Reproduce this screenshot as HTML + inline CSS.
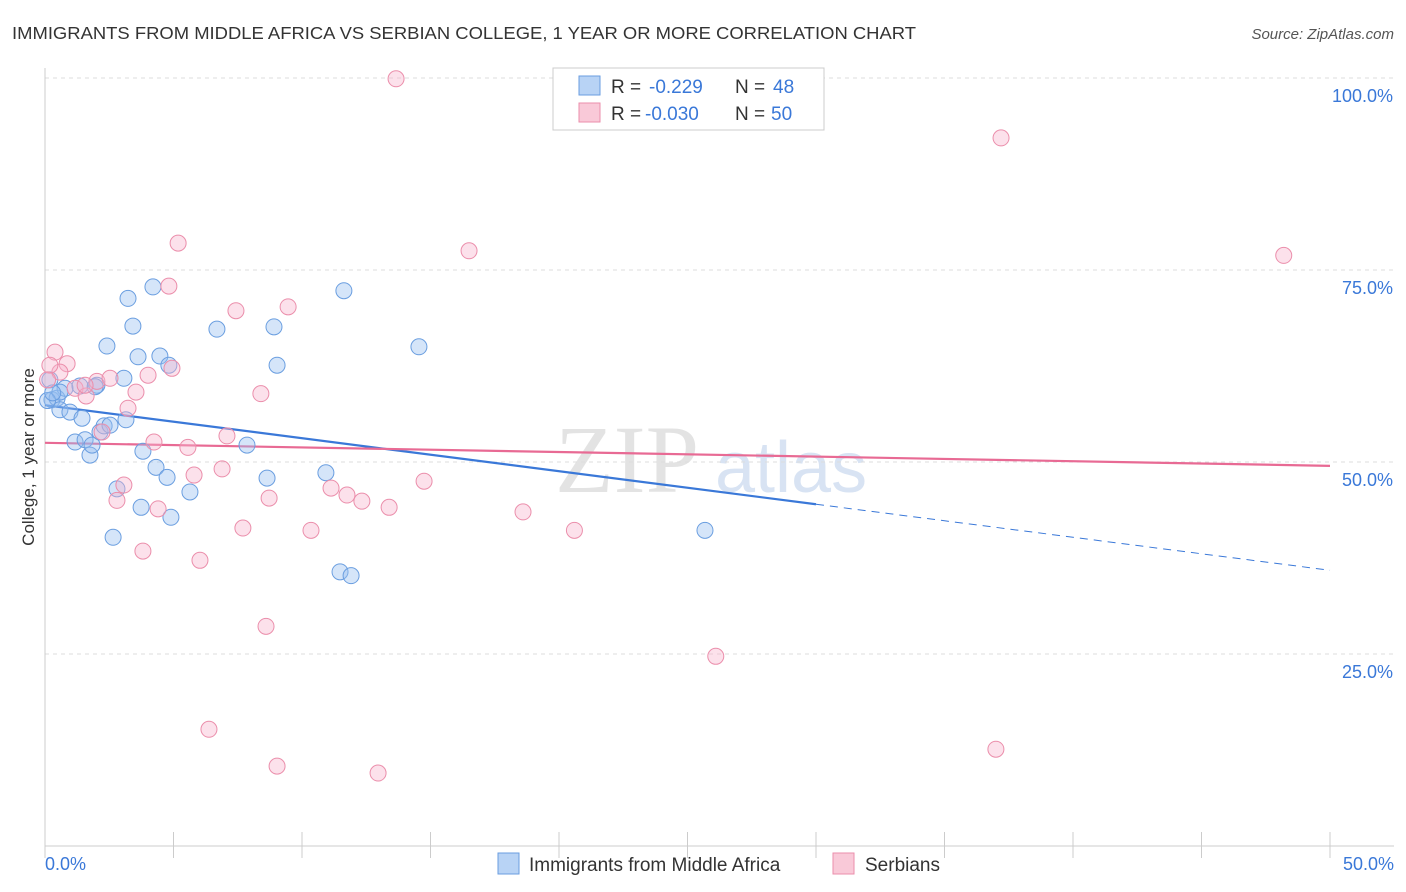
<!DOCTYPE html>
<html><head><meta charset="utf-8"><style>
body{margin:0;background:#fff;font-family:"Liberation Sans",sans-serif}
svg{display:block}
</style></head><body>
<svg id="chart" width="1406" height="892" xmlns="http://www.w3.org/2000/svg">
<text x="12" y="39" font-size="17.5" fill="#333" textLength="904" lengthAdjust="spacingAndGlyphs">IMMIGRANTS FROM MIDDLE AFRICA VS SERBIAN COLLEGE, 1 YEAR OR MORE CORRELATION CHART</text>
<text x="1394" y="39" font-size="15" fill="#555" text-anchor="end" font-style="italic">Source: ZipAtlas.com</text>
<g>
<text x="555" y="492" font-size="96" fill="#ddd" font-family="Liberation Serif,serif" opacity="0.8">ZIP</text>
<text x="715" y="492" font-size="72" fill="#c8d8ee" opacity="0.7">atlas</text>
</g>
<g id="grid"></g><g id="axes"></g><g id="lines"></g><g id="pts"></g>
<text transform="translate(34,457) rotate(-90)" font-size="17" fill="#333" text-anchor="middle">College, 1 year or more</text>
<g>
<rect x="553" y="68" width="271" height="62" fill="#fff" stroke="#ccc"/>
<rect x="579" y="76" width="21" height="19" fill="#b8d3f5" stroke="#6a9ee0"/>
<rect x="579" y="103" width="21" height="19" fill="#f9c9d8" stroke="#eb8eab"/>
<text x="611" y="93" font-size="19" fill="#333">R =</text>
<text x="649" y="93" font-size="19" fill="#3a78d8">-0.229</text>
<text x="735" y="93" font-size="19" fill="#333">N =</text>
<text x="773" y="93" font-size="19" fill="#3a78d8">48</text>
<text x="611" y="120" font-size="19" fill="#333">R =</text>
<text x="645" y="120" font-size="19" fill="#3a78d8">-0.030</text>
<text x="735" y="120" font-size="19" fill="#333">N =</text>
<text x="771" y="120" font-size="19" fill="#3a78d8">50</text>
</g>
<g>
<rect x="498" y="853" width="21" height="21" fill="#b8d3f5" stroke="#6a9ee0"/>
<text x="529" y="871" font-size="19" fill="#333">Immigrants from Middle Africa</text>
<rect x="833" y="853" width="21" height="21" fill="#f9c9d8" stroke="#eb8eab"/>
<text x="865" y="871" font-size="19" fill="#333">Serbians</text>
</g>
</svg>
<script>
const blueX=[0.19,0.27,0.47,0.58,0.78,0.97,1.17,1.44,1.56,1.75,1.83,2.02,2.14,2.30,2.41,2.53,2.80,3.07,3.15,3.23,3.42,3.62,3.74,3.81,4.20,4.32,4.47,4.75,4.82,4.90,5.64,6.69,7.86,8.64,8.91,9.03,10.93,11.48,11.63,11.91,14.55,25.68,2.65,1.36,1.95,0.58,0.1,0.3];
const blueY=[60.7,58.1,58.3,56.8,59.6,56.5,52.6,55.7,52.9,50.9,52.2,60.0,53.9,54.7,65.1,54.8,46.5,60.9,55.5,71.3,67.7,63.7,44.1,51.4,72.8,49.3,63.8,48.0,62.6,42.8,46.1,67.3,52.2,47.9,67.6,62.6,48.6,35.7,72.3,35.2,65.0,41.1,40.2,59.9,59.8,59.1,58.0,59.0];
const pinkX=[13.66,37.2,48.2,16.5,5.18,4.82,7.43,9.46,0.39,0.86,0.58,4.94,4.01,2.02,2.53,1.17,1.60,3.54,8.40,3.23,2.22,7.08,4.24,5.56,6.89,5.80,3.07,2.80,8.72,11.13,11.75,12.33,13.39,14.75,18.6,20.6,7.70,10.35,3.81,6.03,4.40,8.60,26.1,6.38,9.03,12.96,37.0,0.19,1.56,0.1];
const pinkY=[99.9,92.2,76.9,77.5,78.5,72.9,69.7,70.2,64.3,62.8,61.7,62.2,61.3,60.5,60.9,59.6,58.6,59.1,58.9,57.0,53.9,53.4,52.6,51.9,49.1,48.3,47.0,45.0,45.3,46.6,45.7,44.9,44.1,47.5,43.5,41.1,41.4,41.1,38.4,37.2,43.9,28.6,24.7,15.2,10.4,9.5,12.6,62.6,60.0,60.7];
const blueLine=[57.4,-0.43]; // intercept, slope per %
const pinkLine=[52.5,-0.06];
const yTicks=[25,50,75,100];
const xTickLabels=["0.0%","50.0%"];
const NS="http://www.w3.org/2000/svg";
const X=v=>45+v/50*1285, Y=v=>846-v/25*192;
function mk(tag,attrs,parent){const e=document.createElementNS(NS,tag);for(const k in attrs)e.setAttribute(k,attrs[k]);document.getElementById(parent).appendChild(e);return e;}
yTicks.forEach(t=>{
 const l=mk('line',{x1:45,x2:1394,y1:Y(t),y2:Y(t),stroke:'#ddd','stroke-dasharray':'4,4'},'grid');
 
 
 const tx=mk('text',{x:1393,y:Y(t)+24,'font-size':18,fill:'#3a78d8','text-anchor':'end'},'axes');
 tx.textContent=t.toFixed(1)+'%';
 
 
});
const ax=mk('line',{x1:45,x2:45,y1:68,y2:846,stroke:'#ccc'},'axes');


const bx=mk('line',{x1:45,x2:1394,y1:846,y2:846,stroke:'#ccc'},'axes');


for(let i=0;i<=10;i++){const t=mk('line',{x1:X(i*5),x2:X(i*5),y1:832,y2:858,stroke:'#ccc'},'axes');
 
 }
[[0,'start',45],[50,'end',1394]].forEach((d,i)=>{const t=mk('text',{x:d[2],y:870,'font-size':18,fill:'#3a78d8','text-anchor':d[1]},'axes');t.textContent=xTickLabels[i];
 
 });
function line(p,x1,x2,col,dash,name){const e=mk('line',{x1:X(x1),x2:X(x2),y1:Y(p[0]+p[1]*x1),y2:Y(p[0]+p[1]*x2),stroke:col,'stroke-width':dash?1:2.2,'stroke-dasharray':dash?'8,6':'none'},'lines');
 
 }
line(blueLine,0,30,'#3a78d8',false,'blue-trend-line');
line(blueLine,30,50,'#3a78d8',true,'blue-trend-extension');
line(pinkLine,0,50,'#e86a94',false,'pink-trend-line');
blueX.forEach((x,i)=>{const c=mk('circle',{cx:X(x),cy:Y(blueY[i]),r:8,fill:'rgba(150,190,240,0.4)',stroke:'#6a9ee0','stroke-width':1},'pts');
 
 });
pinkX.forEach((x,i)=>{const c=mk('circle',{cx:X(x),cy:Y(pinkY[i]),r:8,fill:'rgba(248,180,205,0.4)',stroke:'#eb8eab','stroke-width':1},'pts');
 
 });
</script>
</body></html>
